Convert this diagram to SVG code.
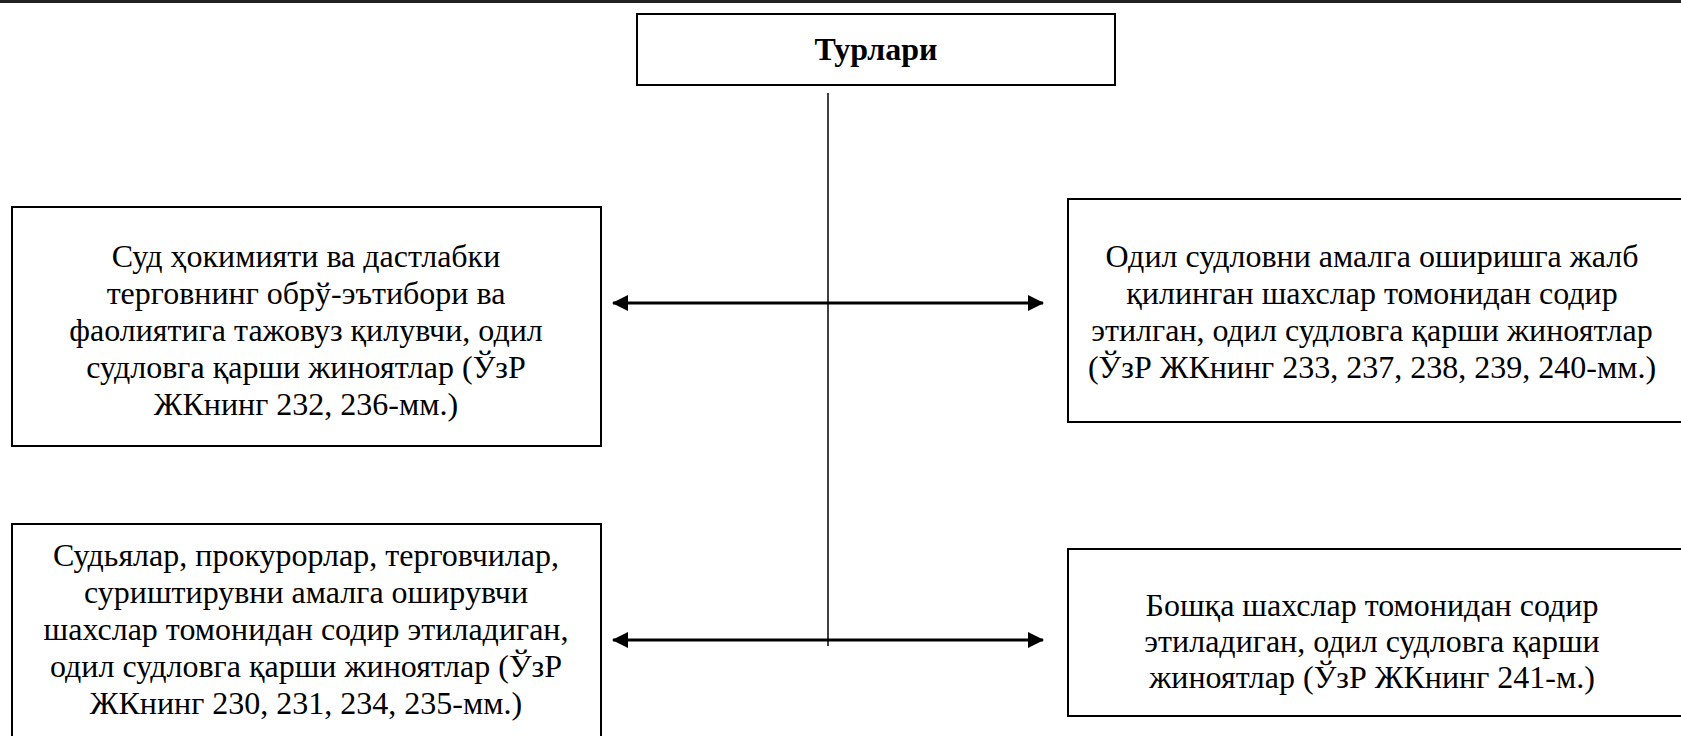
<svg xmlns="http://www.w3.org/2000/svg" width="1681" height="736" viewBox="0 0 1681 736">
<style>
.box{fill:#fff;stroke:#000;stroke-width:2}
text{font-family:"Liberation Serif","Times New Roman",serif;font-size:32px;fill:#000;text-anchor:middle}
.b{font-weight:bold}
.c{stroke:#000;fill:none}
</style>
<defs>
<marker id="ah" viewBox="0 0 16 16" refX="15" refY="8" markerWidth="16" markerHeight="16" markerUnits="userSpaceOnUse" orient="auto-start-reverse">
<path d="M0,0 L16,8 L0,16 Z" fill="#000"/>
</marker>
</defs>
<rect x="0" y="0" width="1681" height="736" fill="#fff"/>
<line x1="0" y1="1.5" x2="1681" y2="1.5" stroke="#222" stroke-width="3"/>
<g id="connectors">
<line class="c" x1="828" y1="93" x2="828" y2="646" stroke-width="1.5"/>
<line class="c" x1="613" y1="303" x2="1043" y2="303" stroke-width="3" marker-start="url(#ah)" marker-end="url(#ah)"/>
<line class="c" x1="613" y1="640" x2="1043" y2="640" stroke-width="3" marker-start="url(#ah)" marker-end="url(#ah)"/>
</g>
<g id="node-top">
<rect class="box" x="637" y="14" width="478" height="71"/>
<text class="b" x="876" y="60">Турлари</text>
</g>
<g id="node-left1">
<rect class="box" x="12" y="207" width="589" height="239"/>
<text x="306" y="267">Суд ҳокимияти ва дастлабки</text>
<text x="306" y="304">терговнинг обрў-эътибори ва</text>
<text x="306" y="341">фаолиятига тажовуз қилувчи, одил</text>
<text x="306" y="378">судловга қарши жиноятлар (ЎзР</text>
<text x="306" y="415">ЖКнинг 232, 236-мм.)</text>
</g>
<g id="node-right1">
<rect class="box" x="1068" y="199" width="630" height="223"/>
<text x="1372" y="267">Одил судловни амалга оширишга жалб</text>
<text x="1372" y="304">қилинган шахслар томонидан содир</text>
<text x="1372" y="341">этилган, одил судловга қарши жиноятлар</text>
<text x="1372" y="378">(ЎзР ЖКнинг 233, 237, 238, 239, 240-мм.)</text>
</g>
<g id="node-left2">
<rect class="box" x="12" y="524" width="589" height="230"/>
<text x="306" y="566">Судьялар, прокурорлар, терговчилар,</text>
<text x="306" y="603">суриштирувни амалга оширувчи</text>
<text x="306" y="640">шахслар томонидан содир этиладиган,</text>
<text x="306" y="677">одил судловга қарши жиноятлар (ЎзР</text>
<text x="306" y="714">ЖКнинг 230, 231, 234, 235-мм.)</text>
</g>
<g id="node-right2">
<rect class="box" x="1068" y="549" width="630" height="167"/>
<text x="1372" y="616">Бошқа шахслар томонидан содир</text>
<text x="1372" y="652">этиладиган, одил судловга қарши</text>
<text x="1372" y="688">жиноятлар (ЎзР ЖКнинг 241-м.)</text>
</g>
</svg>
